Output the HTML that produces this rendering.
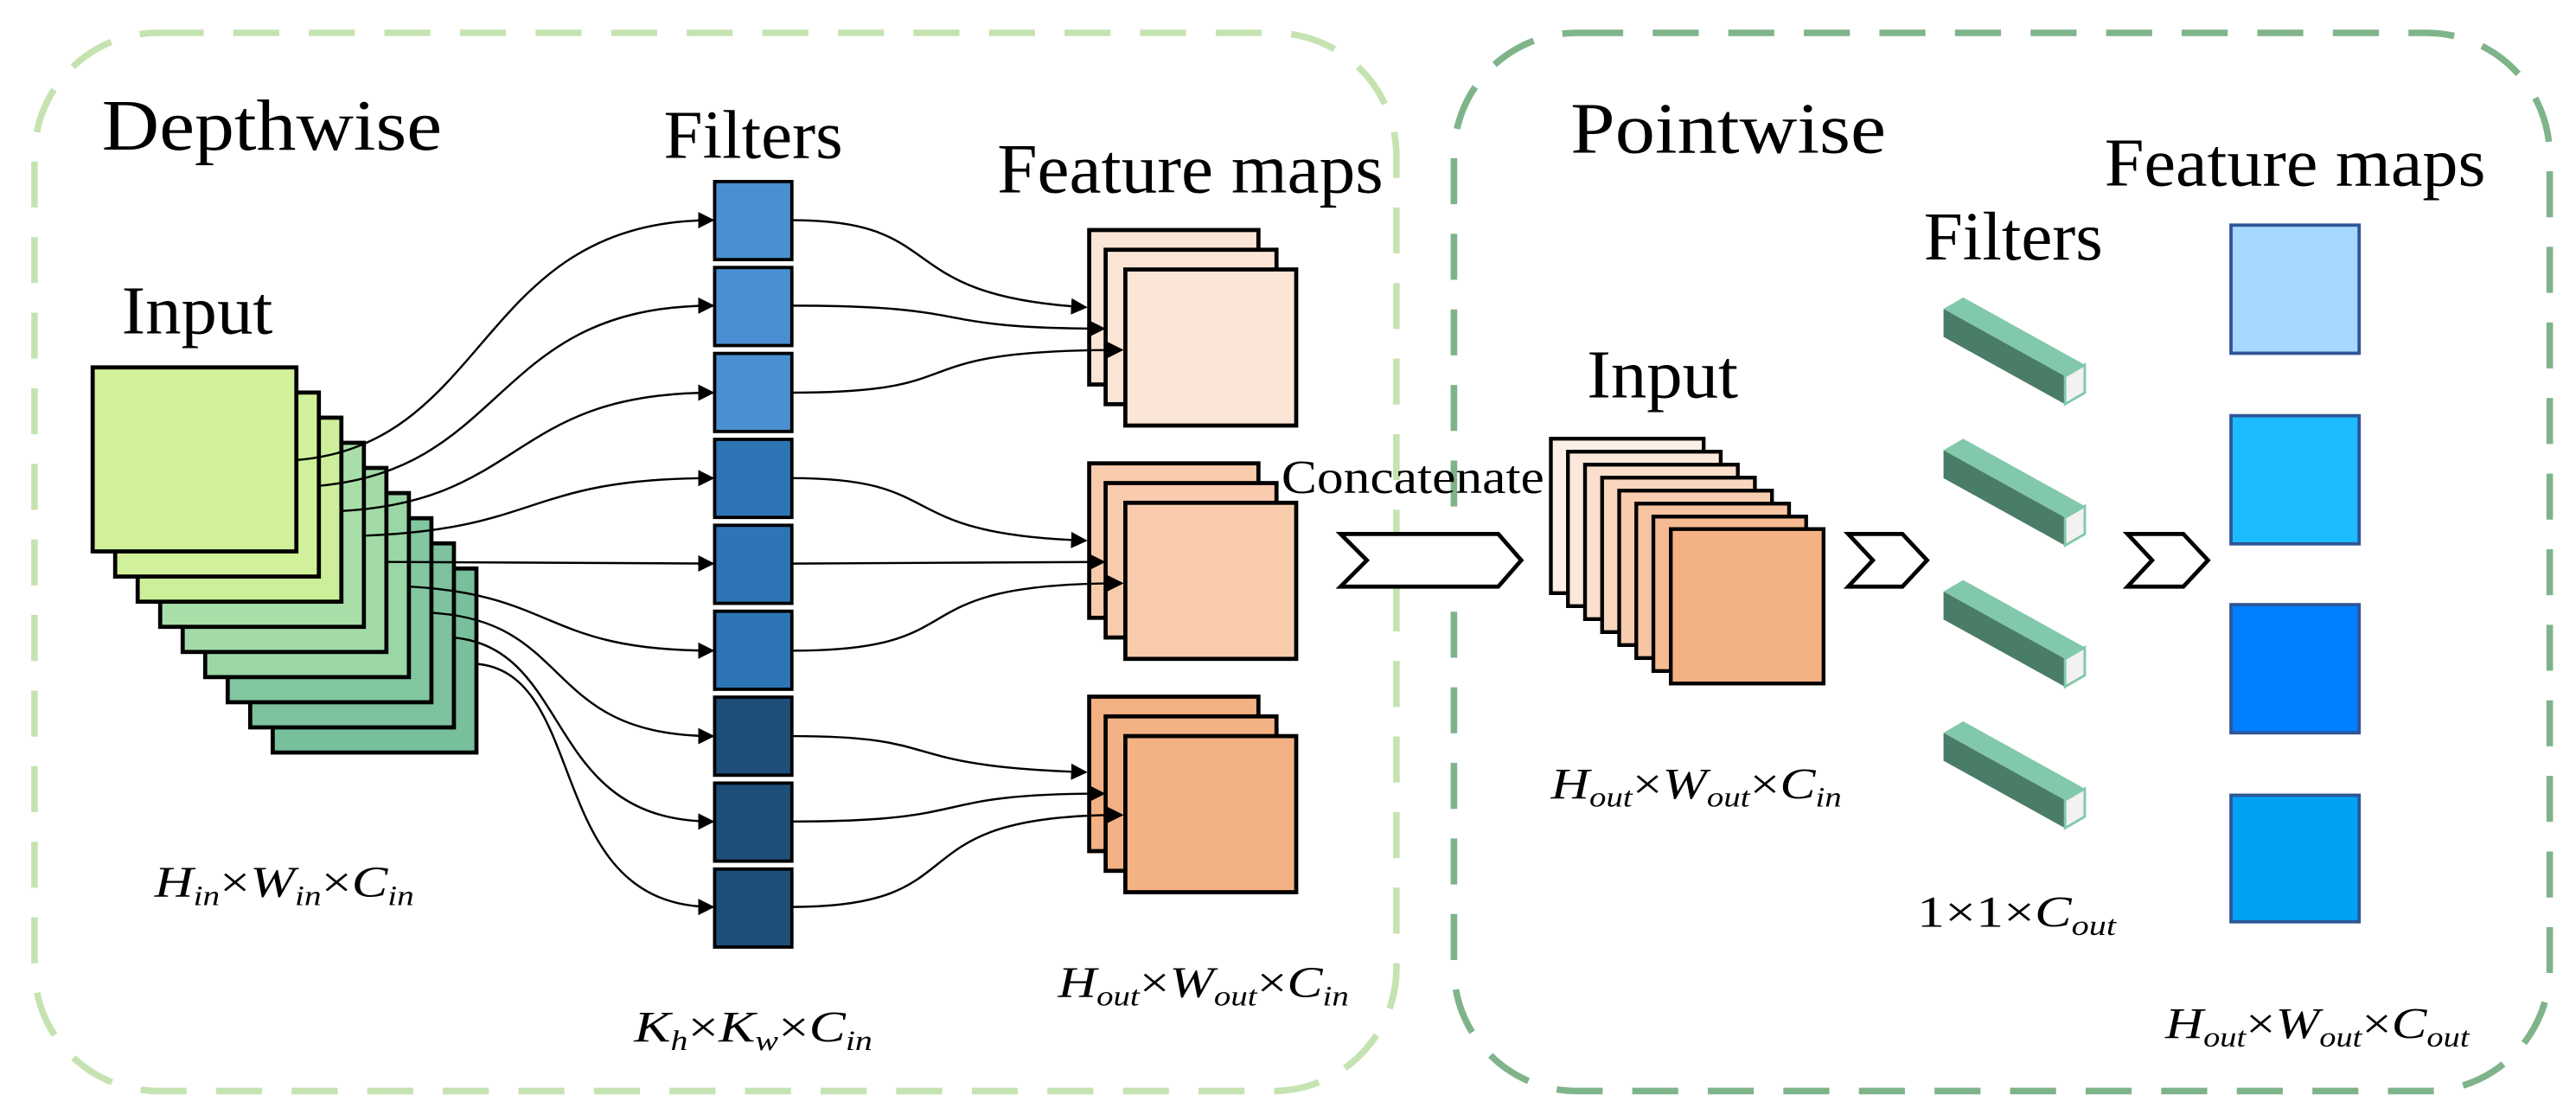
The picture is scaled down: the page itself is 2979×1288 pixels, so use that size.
<!DOCTYPE html>
<html><head><meta charset="utf-8"><style>
html,body{margin:0;padding:0;background:#fff}
svg{display:block}
text{font-family:"Liberation Serif",serif;fill:#000}
.m{font-style:italic;font-size:27px}
</style></head><body>
<svg width="2979" height="1288" viewBox="0 0 1568 678" preserveAspectRatio="none" xmlns="http://www.w3.org/2000/svg">
<defs>
<marker id="ah" markerWidth="10" markerHeight="10" refX="9" refY="5" orient="auto" markerUnits="userSpaceOnUse">
<path d="M0,0 L10,5 L0,10 z" fill="#000"/></marker>
</defs>
<rect x="21" y="20" width="829" height="644" rx="75" fill="none" stroke="#c5e3b0" stroke-width="4" stroke-dasharray="28,18"/>
<rect x="885" y="20" width="667" height="644" rx="75" fill="none" stroke="#7fb48a" stroke-width="4" stroke-dasharray="28,18"/>

<text x="62" y="91" font-size="44" textLength="207" lengthAdjust="spacingAndGlyphs">Depthwise</text>
<text x="404" y="96" font-size="42" textLength="109" lengthAdjust="spacingAndGlyphs">Filters</text>
<text x="607" y="117" font-size="43" textLength="235" lengthAdjust="spacingAndGlyphs">Feature maps</text>
<text x="74" y="203" font-size="42" textLength="92" lengthAdjust="spacingAndGlyphs">Input</text>
<text x="956" y="93" font-size="44" textLength="192" lengthAdjust="spacingAndGlyphs">Pointwise</text>
<text x="1281" y="113" font-size="42" textLength="232" lengthAdjust="spacingAndGlyphs">Feature maps</text>
<text x="1171" y="158" font-size="42" textLength="109" lengthAdjust="spacingAndGlyphs">Filters</text>
<text x="966" y="242" font-size="42" textLength="92" lengthAdjust="spacingAndGlyphs">Input</text>
<text x="780" y="300" font-size="29" textLength="160" lengthAdjust="spacingAndGlyphs">Concatenate</text>

<!-- input stack -->
<g stroke="#000" stroke-width="2.5">
<rect x="166" y="346" width="124" height="112" fill="#78bf9c"/>
<rect x="152.3" y="330.7" width="124" height="112" fill="#7dc29d"/>
<rect x="138.6" y="315.4" width="124" height="112" fill="#82c7a0"/>
<rect x="124.9" y="300.1" width="124" height="112" fill="#9bd6a6"/>
<rect x="111.2" y="284.8" width="124" height="112" fill="#a3dba8"/>
<rect x="97.5" y="269.5" width="124" height="112" fill="#a8dfa8"/>
<rect x="83.8" y="254.2" width="124" height="112" fill="#cdef9a"/>
<rect x="70.1" y="238.9" width="124" height="112" fill="#d0f09a"/>
<rect x="56.4" y="223.6" width="124" height="112" fill="#d2f19a"/>
</g>

<!-- filters column -->
<g stroke="#000" stroke-width="2">
<rect x="435" y="110.5" width="47" height="47.5" fill="#4a8fd1"/>
<rect x="435" y="162.8" width="47" height="47.5" fill="#4a8fd1"/>
<rect x="435" y="215.1" width="47" height="47.5" fill="#4a8fd1"/>
<rect x="435" y="267.4" width="47" height="47.5" fill="#2e75b6"/>
<rect x="435" y="319.7" width="47" height="47.5" fill="#2e75b6"/>
<rect x="435" y="372" width="47" height="47.5" fill="#2e75b6"/>
<rect x="435" y="424.3" width="47" height="47.5" fill="#1f4e79"/>
<rect x="435" y="476.6" width="47" height="47.5" fill="#1f4e79"/>
<rect x="435" y="528.9" width="47" height="47.5" fill="#1f4e79"/>
</g>

<!-- curves input -> filters -->
<g fill="none" stroke="#000" stroke-width="1.3" marker-end="url(#ah)">
<path d="M180.6,280 C300,270 290,134 434,134"/>
<path d="M194.7,295.6 C310,285 300,186 434,186"/>
<path d="M208,311 C320,305 310,239 434,239"/>
<path d="M222,326 C330,322 320,291 434,291"/>
<path d="M235,342 L434,343"/>
<path d="M249,357 C340,362 330,396 434,396"/>
<path d="M263,373 C350,378 330,448 434,448"/>
<path d="M276,388 C350,395 330,500 434,500"/>
<path d="M290,404 C360,410 330,552 434,552"/>
</g>

<!-- feature maps groups -->
<g stroke="#000" stroke-width="2.5">
<rect x="663" y="140" width="103" height="94" fill="#fbe5d6"/>
<rect x="673" y="152" width="104" height="94" fill="#fbe5d6"/>
<rect x="685" y="164" width="104" height="95" fill="#fbe5d6"/>
<rect x="663" y="282" width="103" height="94" fill="#f8cbad"/>
<rect x="673" y="294" width="104" height="94" fill="#f8cbad"/>
<rect x="685" y="306" width="104" height="95" fill="#f8cbad"/>
<rect x="663" y="424" width="103" height="94" fill="#f4b183"/>
<rect x="673" y="436" width="104" height="94" fill="#f4b183"/>
<rect x="685" y="448" width="104" height="95" fill="#f4b183"/>
</g>

<!-- curves filters -> feature maps -->
<g fill="none" stroke="#000" stroke-width="1.3" marker-end="url(#ah)">
<path d="M482,134 C580,134 540,180 661,187"/>
<path d="M482,186 C600,186 560,200 672,200"/>
<path d="M482,239 C600,239 540,213 683,213"/>
<path d="M482,291 C580,291 540,325 661,329"/>
<path d="M482,343 L672,342"/>
<path d="M482,396 C600,396 540,355 683,355"/>
<path d="M482,448 C580,448 540,466 661,470"/>
<path d="M482,500 C600,500 560,483 672,483"/>
<path d="M482,552 C600,552 540,496 683,496"/>
</g>

<!-- chevrons -->
<g fill="#fff" stroke="#000" stroke-width="2.5" stroke-linejoin="miter">
<path d="M816,325 L912,325 L926,341 L912,357 L816,357 L832,341 z"/>
<path d="M1125,325 L1158,325 L1173,341 L1158,357 L1125,357 L1140,341 z"/>
<path d="M1295,325 L1329,325 L1344,341 L1329,357 L1295,357 L1310,341 z"/>
</g>

<!-- right input stack -->
<g stroke="#000" stroke-width="2.3">
<rect x="944" y="267" width="93" height="94" fill="#fdefe6"/>
<rect x="954.4" y="274.9" width="93" height="94" fill="#fce8da"/>
<rect x="964.8" y="282.8" width="93" height="94" fill="#fbdfcc"/>
<rect x="975.2" y="290.7" width="93" height="94" fill="#fad6be"/>
<rect x="985.6" y="298.6" width="93" height="94" fill="#f8cdaf"/>
<rect x="996" y="306.5" width="93" height="94" fill="#f7c4a1"/>
<rect x="1006.4" y="314.4" width="93" height="94" fill="#f6bb93"/>
<rect x="1017" y="322" width="93" height="94" fill="#f4b183"/>
</g>

<!-- bars -->
<g id="bar">
<polygon points="1183,188 1195,181 1269,222 1257,229" fill="#82c8aa"/>
<polygon points="1183,188 1257,229 1257,246 1183,205" fill="#4a7d68"/>
<polygon points="1257,229 1269,222 1269,239 1257,246" fill="#f2f2f2" stroke="#82c8aa" stroke-width="1.5"/>
</g>
<use href="#bar" y="86"/>
<use href="#bar" y="172"/>
<use href="#bar" y="258"/>

<!-- blue squares -->
<g stroke="#2f5597" stroke-width="2">
<rect x="1358" y="137" width="78" height="78" fill="#a6d8ff"/>
<rect x="1358" y="253" width="78" height="78" fill="#1cbcff"/>
<rect x="1358" y="368" width="78" height="78" fill="#0080ff"/>
<rect x="1358" y="484" width="78" height="77" fill="#00a2f4"/>
</g>

<!-- math labels -->
<text class="m" x="94" y="546" textLength="158" lengthAdjust="spacingAndGlyphs">H<tspan font-size="17" dy="5">in</tspan><tspan font-style="normal" dy="-5">×</tspan>W<tspan font-size="17" dy="5">in</tspan><tspan font-style="normal" dy="-5">×</tspan>C<tspan font-size="17" dy="5">in</tspan></text>
<text class="m" x="386" y="634" textLength="145" lengthAdjust="spacingAndGlyphs">K<tspan font-size="17" dy="5">h</tspan><tspan font-style="normal" dy="-5">×</tspan>K<tspan font-size="17" dy="5">w</tspan><tspan font-style="normal" dy="-5">×</tspan>C<tspan font-size="17" dy="5">in</tspan></text>
<text class="m" x="644" y="607" textLength="177" lengthAdjust="spacingAndGlyphs">H<tspan font-size="17" dy="5">out</tspan><tspan font-style="normal" dy="-5">×</tspan>W<tspan font-size="17" dy="5">out</tspan><tspan font-style="normal" dy="-5">×</tspan>C<tspan font-size="17" dy="5">in</tspan></text>
<text class="m" x="944" y="486" textLength="177" lengthAdjust="spacingAndGlyphs">H<tspan font-size="17" dy="5">out</tspan><tspan font-style="normal" dy="-5">×</tspan>W<tspan font-size="17" dy="5">out</tspan><tspan font-style="normal" dy="-5">×</tspan>C<tspan font-size="17" dy="5">in</tspan></text>
<text class="m" x="1167" y="564" textLength="121" lengthAdjust="spacingAndGlyphs"><tspan font-style="normal">1×1×</tspan>C<tspan font-size="17" dy="5">out</tspan></text>
<text class="m" x="1318" y="632" textLength="185" lengthAdjust="spacingAndGlyphs">H<tspan font-size="17" dy="5">out</tspan><tspan font-style="normal" dy="-5">×</tspan>W<tspan font-size="17" dy="5">out</tspan><tspan font-style="normal" dy="-5">×</tspan>C<tspan font-size="17" dy="5">out</tspan></text>
</svg>
</body></html>
